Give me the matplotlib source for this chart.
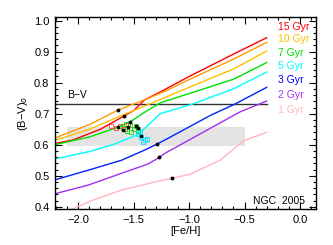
import matplotlib.pyplot as plt
from matplotlib.ticker import MultipleLocator

plt.rcParams['font.family'] = ['Liberation Sans', 'DejaVu Sans']
plt.rcParams['font.size'] = 8

# isochrone colours vs [Fe/H] for several ages
red_feh = [-2.2, -2.05, -1.8, -1.6, -1.5, -1.4, -1.25, -1.0, -0.6, -0.3]
red_bv = [0.605, 0.615, 0.650, 0.690, 0.710, 0.745, 0.772, 0.820, 0.892, 0.945]
orange_feh = [-2.2, -1.9, -1.64, -1.4, -1.2, -1.0, -0.6, -0.3]
orange_bv = [0.623, 0.665, 0.712, 0.745, 0.775, 0.810, 0.876, 0.930]
gold_feh = [-2.2, -1.9, -1.67, -1.4, -1.0, -0.6, -0.3]
gold_bv = [0.615, 0.650, 0.685, 0.725, 0.785, 0.844, 0.902]
green_feh = [-2.2, -1.9, -1.67, -1.53, -1.4, -1.26, -1.0, -0.6, -0.3]
green_bv = [0.601, 0.625, 0.653, 0.674, 0.705, 0.735, 0.765, 0.811, 0.865]
cyan_feh = [-2.2, -1.9, -1.69, -1.46, -1.26, -0.97, -0.6, -0.3]
cyan_bv = [0.555, 0.578, 0.600, 0.633, 0.700, 0.731, 0.780, 0.834]
blue_feh = [-2.2, -1.91, -1.61, -1.4, -1.29, -1.22, -0.8, -0.587, -0.3]
blue_bv = [0.488, 0.518, 0.550, 0.583, 0.602, 0.615, 0.696, 0.731, 0.785]
purple_feh = [-2.2, -1.91, -1.61, -1.37, -1.27, -1.22, -0.54, -0.3]
purple_bv = [0.443, 0.470, 0.508, 0.538, 0.559, 0.572, 0.706, 0.741]
pink_feh = [-2.2, -1.88, -1.61, -1.26, -0.99, -0.72, -0.51, -0.3]
pink_bv = [0.370, 0.420, 0.454, 0.484, 0.505, 0.550, 0.613, 0.640]

# markers on the isochrones
dot_feh = [-1.64, -1.587, -1.53, -1.46, -1.29, -1.27, -1.15]
dot_bv = [0.712, 0.694, 0.674, 0.653, 0.602, 0.559, 0.493]

# NGC 2005 measurements
red_sq_feh = [-1.70, -1.66, -1.62, -1.58, -1.55]
red_sq_bv = [0.660, 0.655, 0.662, 0.650, 0.665]
green_sq_feh = [-1.60, -1.56, -1.53, -1.50, -1.48, -1.46, -1.52, -1.57]
green_sq_bv = [0.655, 0.645, 0.665, 0.650, 0.660, 0.645, 0.640, 0.668]
cyan_sq_feh = [-1.46, -1.43, -1.40, -1.42, -1.38, -1.44]
cyan_sq_bv = [0.635, 0.625, 0.615, 0.610, 0.620, 0.640]
black_sq_feh = [-1.64, -1.60, -1.55, -1.48, -1.43]
black_sq_bv = [0.658, 0.647, 0.656, 0.660, 0.628]

bv_obs = 0.731
band_feh = (-2.1, -0.5)
band_bv = (0.597, 0.658)

ages = ['15 Gyr', '10 Gyr', '7 Gyr', '5 Gyr', '3 Gyr', '2 Gyr', '1 Gyr']
age_colors = ['#ff0000', '#ffc000', '#00e000', '#00ffff', '#0000ff', '#a030f0', '#ffb6c1']
age_y = [0.98, 0.94, 0.895, 0.854, 0.81, 0.76, 0.712]

fig = plt.figure(figsize=(3.33, 2.45), dpi=100)
ax = fig.add_axes([0.165, 0.147, 0.784, 0.784])

ax.fill_between(band_feh, band_bv[0], band_bv[1], color='#e4e4e4', lw=0, zorder=0)
ax.plot([-2.21, -0.3], [bv_obs, bv_obs], color='#333333', lw=1.0)
ax.text(-2.1, 0.752, 'B\u2212V', fontsize=7.5)

lines = [(red_feh, red_bv, '#ff0000'), (orange_feh, orange_bv, '#ff9900'),
         (gold_feh, gold_bv, '#ffc000'), (green_feh, green_bv, '#00e000'),
         (cyan_feh, cyan_bv, '#00ffff'), (blue_feh, blue_bv, '#0022ff'),
         (purple_feh, purple_bv, '#a030f0'), (pink_feh, pink_bv, '#ffb6c1')]
for fx, fy, c in lines:
    ax.plot(fx, fy, color=c, lw=1.0)

ax.plot(red_sq_feh, red_sq_bv, 's', mfc='none', mec='#ff4040', ms=3, mew=0.6)
ax.plot(green_sq_feh, green_sq_bv, 's', mfc='none', mec='#00e000', ms=3, mew=0.6)
ax.plot(cyan_sq_feh, cyan_sq_bv, 's', mfc='none', mec='#00e0ff', ms=3, mew=0.6)
ax.plot(black_sq_feh, black_sq_bv, 's', color='black', ms=2.0)
ax.plot(dot_feh, dot_bv, 'o', color='black', ms=1.8)

for lab, c, y in zip(ages, age_colors, age_y):
    ax.text(-0.2, y, lab, color=c, fontsize=7.5, va='center')
ax.text(0.05, 0.42, 'NGC  2005', fontsize=7.5, ha='right', va='center')

ax.set_xlim(-2.21, 0.145)
ax.set_ylim(0.393, 1.012)
ax.xaxis.set_major_locator(MultipleLocator(0.5))
ax.xaxis.set_minor_locator(MultipleLocator(0.1))
ax.yaxis.set_major_locator(MultipleLocator(0.1))
ax.yaxis.set_minor_locator(MultipleLocator(0.02))
ax.tick_params(which='both', direction='in', top=True, right=True, width=0.8, labelsize=8)
ax.tick_params(which='major', length=5, pad=4)
ax.tick_params(which='minor', length=2.5)
ax.set_xticks([-2.0, -1.5, -1.0, -0.5, 0.0])
ax.set_xticklabels(['\u22122.0', '\u22121.5', '\u22121.0', '\u22120.5', '0.0'])
ax.set_xlabel('[Fe/H]', labelpad=1, fontsize=8)
ax.set_ylabel('(B\u2212V)$_o$', labelpad=3, fontsize=8)
for s in ax.spines.values():
    s.set_linewidth(1.0)

fig.savefig('out.png', dpi=100)
